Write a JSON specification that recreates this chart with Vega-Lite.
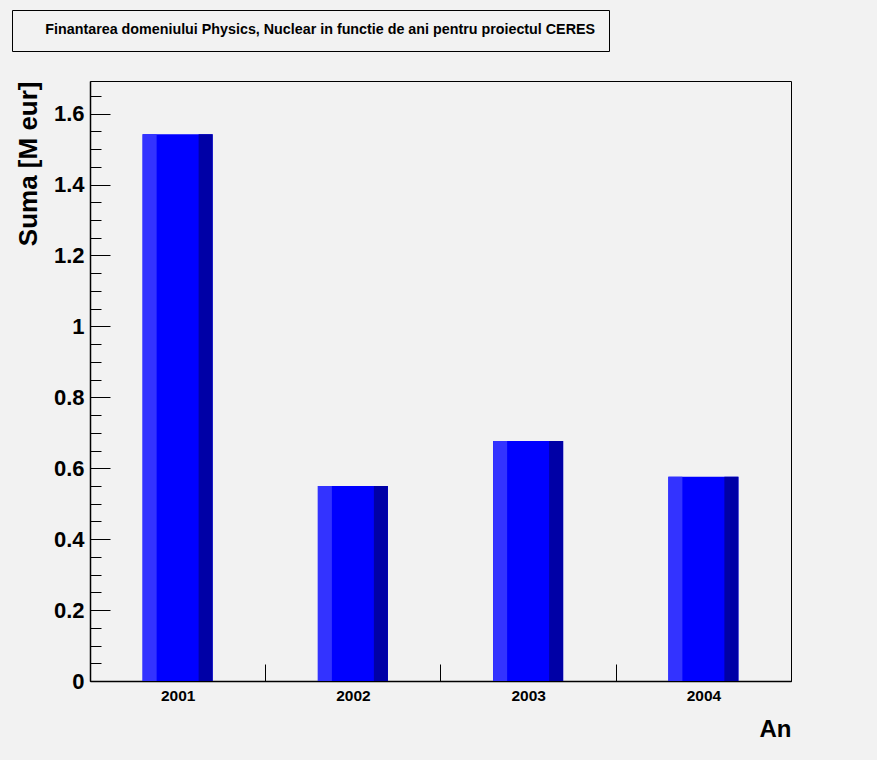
{
  "$schema": "https://vega.github.io/schema/vega-lite/v6.json",
  "background": "#f2f2f2",
  "padding": {"left": 11, "top": 9, "right": 86, "bottom": 18},
  "config": {"font": "Liberation Sans"},
  "width": 701,
  "height": 600,
  "view": {"stroke": "black", "strokeWidth": 1},
  "data": {"values": [
    {"An": "2001", "Suma": 1.542},
    {"An": "2002", "Suma": 0.550},
    {"An": "2003", "Suma": 0.677},
    {"An": "2004", "Suma": 0.576}
  ]},
  "encoding": {
    "x": {
      "field": "An", "type": "ordinal",
      "scale": {"paddingInner": 0, "paddingOuter": 0},
      "axis": {
        "title": "An", "titleAnchor": "end", "titleFontSize": 24, "titleFontWeight": "bold", "titleColor": "black", "titlePadding": 14,
        "labelAngle": 0, "labelFontSize": 15.5, "labelFontWeight": "bold", "labelColor": "black", "labelPadding": 24,
        "tickOffset": 87.6, "labelOffset": -87.6,
        "tickSize": -17, "tickColor": "black", "domainColor": "black", "domainWidth": 1.5
      }
    },
    "y": {
      "field": "Suma", "type": "quantitative",
      "scale": {"domain": [0, 1.692], "nice": false},
      "axis": {
        "title": "Suma [M eur]", "titleAnchor": "end", "titleFontSize": 26, "titleFontWeight": "bold", "titleColor": "black", "titlePadding": 12,
        "grid": false,
        "values": [0,0.05,0.1,0.15,0.2,0.25,0.3,0.35,0.4,0.45,0.5,0.55,0.6,0.65,0.7,0.75,0.8,0.85,0.9,0.95,1,1.05,1.1,1.15,1.2,1.25,1.3,1.35,1.4,1.45,1.5,1.55,1.6,1.65],
        "labelExpr": "abs(round(datum.value*5)-datum.value*5)<0.001 ? format(datum.value, '.1~f') : ''",
        "labelOverlap": false,
        "labelFontSize": 22, "labelFontWeight": "bold", "labelColor": "black", "labelPadding": 26,
        "tickSize": {"condition": {"test": "abs(round(datum.value*5)-datum.value*5)<0.001", "value": -20}, "value": -11},
        "tickColor": "black", "domainColor": "black", "domainWidth": 1.5
      }
    }
  },
  "layer": [
    {"mark": {"type": "bar", "color": "#0000ff", "width": {"band": 0.4}}},
    {"mark": {"type": "bar", "color": "#3333ff", "width": {"band": 0.08}, "xOffset": -28}},
    {"mark": {"type": "bar", "color": "#0000a6", "width": {"band": 0.08}, "xOffset": 28}},
    {
      "mark": {"type": "point", "opacity": 0},
      "encoding": {
        "color": {
          "datum": "Finantarea domeniului Physics, Nuclear in functie de ani pentru proiectul CERES",
          "legend": {
            "title": null,
            "orient": "none", "legendX": -78, "legendY": -71,
            "strokeColor": "black", "fillColor": "#f2f2f2", "padding": 13,
            "symbolSize": 0, "symbolOpacity": 0, "symbolStrokeWidth": 0,
            "labelOffset": 6, "labelLimit": 1000,
            "labelFont": "Liberation Sans", "labelFontWeight": "bold", "labelFontSize": 14.3, "labelColor": "black"
          }
        }
      }
    }
  ]
}
